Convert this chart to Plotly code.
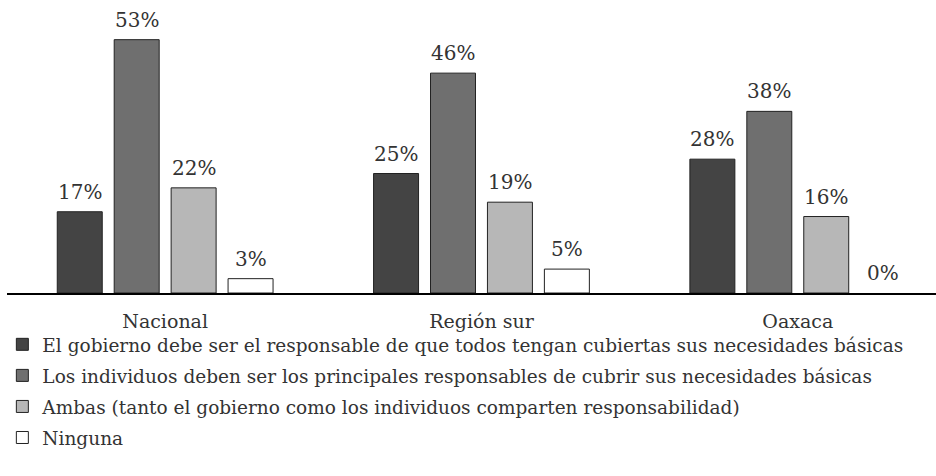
import plotly.graph_objects as go

categories = ["Nacional", "Región sur", "Oaxaca"]
series_names = [
    "El gobierno debe ser el responsable de que todos tengan cubiertas sus necesidades básicas",
    "Los individuos deben ser los principales responsables de cubrir sus necesidades básicas",
    "Ambas (tanto el gobierno como los individuos comparten responsabilidad)",
    "Ninguna",
]
gobierno = [17, 25, 28]
individuos = [53, 46, 38]
ambas = [22, 19, 16]
ninguna = [3, 5, 0]
values = [gobierno, individuos, ambas, ninguna]
colors = ["#444444", "#6f6f6f", "#b7b7b7", "#ffffff"]

FONT = "DejaVu Serif"
BARGAP = 0.28
fig = go.Figure()
for i, (name, vals, col) in enumerate(zip(series_names, values, colors)):
    fig.add_trace(go.Bar(
        x=categories, y=vals, name=name,
        marker=dict(color=col, line=dict(color="#222222",
                                         width=[1 if v > 0 else 0 for v in vals])),
        legendgroup=f"g{i}", hoverinfo="skip",
    ))

# value labels above each bar, positioned in data coordinates
nser = len(values)
slot = (1 - BARGAP) / nser
for j, vals in enumerate(values):
    for i, v in enumerate(vals):
        fig.add_annotation(
            x=i + (j - (nser - 1) / 2) * slot, y=v, xref="x", yref="y",
            text=f"{v}%", showarrow=False, yanchor="bottom", yshift=6,
            font=dict(family=FONT, size=20, color="#333333"),
        )

fig.update_layout(
    width=936, height=476,
    margin=dict(l=7, r=0, t=0, b=183, autoexpand=False),
    paper_bgcolor="white", plot_bgcolor="white",
    barmode="group", bargap=BARGAP, bargroupgap=0.21,
    font=dict(family=FONT, size=19, color="#333333"),
    xaxis=dict(range=[-0.5, 2.437], showline=True, linecolor="black", linewidth=2,
               ticks="", ticklabelstandoff=10,
               tickfont=dict(family=FONT, size=19, color="#333333"),
               showgrid=False, fixedrange=True),
    yaxis=dict(range=[0, 61.3], visible=False, showgrid=False),
    showlegend=True,
    legend=dict(orientation="v", x=-0.005, xanchor="left", y=-0.112, yanchor="top",
                font=dict(family=FONT, size=18.5, color="#333333"),
                tracegroupgap=4, itemwidth=30, bgcolor="rgba(0,0,0,0)",
                traceorder="grouped"),
)
fig.write_html("out.html", config={"displayModeBar": False},
               post_script="document.body.style.margin='0';")
